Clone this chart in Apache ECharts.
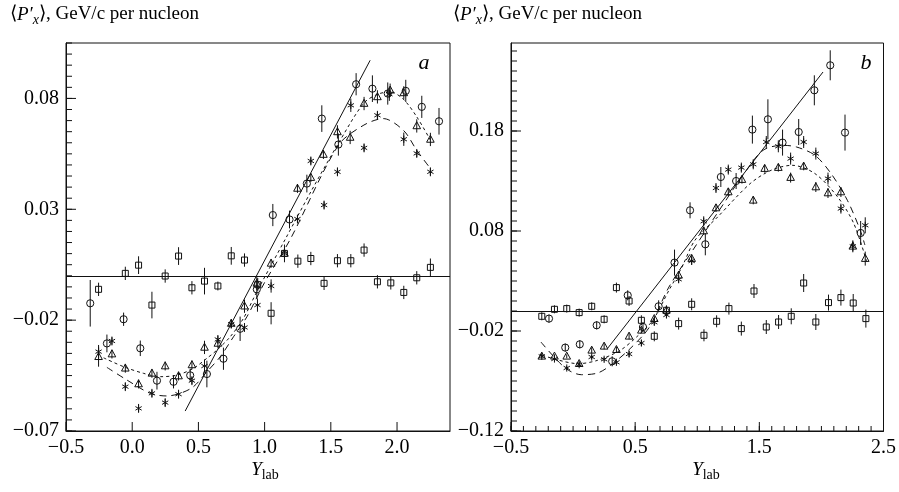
<!DOCTYPE html>
<html><head><meta charset="utf-8">
<script src="https://cdn.jsdelivr.net/npm/echarts@6/dist/echarts.min.js"></script>
<style>html,body{margin:0;padding:0;background:#fff}#c{width:899px;height:492px}</style>
</head><body><div id="c"></div>
<script>
// ---------- Panel a data: [Y_lab, <P'x>, error] ----------
const aCircles = [
[-0.317,-0.0124,0.0105],[-0.191,-0.0305,0.004],[-0.065,-0.0196,0.003],[0.061,-0.0327,0.0035],
[0.187,-0.0473,0.004],[0.312,-0.0478,0.003],[0.438,-0.0449,0.003],[0.564,-0.0443,0.006],
[0.689,-0.0374,0.005],[0.815,-0.0239,0.0055],[0.941,-0.0061,0.004],[1.062,0.0274,0.005],
[1.188,0.0254,0.004],[1.319,0.0416,0.004],[1.432,0.0709,0.006],[1.557,0.0592,0.005],
[1.691,0.0864,0.005],[1.814,0.0844,0.006],[1.930,0.0822,0.005],[2.066,0.0834,0.005],
[2.187,0.0762,0.005],[2.317,0.0697,0.006]];
const aTriangles = [
[-0.254,-0.0365,0.0045],[-0.153,-0.0353,0.002],[-0.052,-0.0417,0.002],[0.048,-0.0488,0.002],
[0.149,-0.044,0.002],[0.249,-0.0407,0.002],[0.350,-0.0452,0.002],[0.451,-0.0402,0.002],
[0.546,-0.0323,0.003],[0.647,-0.0305,0.002],[0.748,-0.0215,0.002],[0.848,-0.0137,0.003],
[0.941,-0.0034,0.003],[1.049,0.0056,0.002],[1.150,0.0101,0.002],[1.248,0.0394,0.002],
[1.349,0.0443,0.002],[1.444,0.0547,0.002],[1.550,0.0649,0.003],[1.646,0.0624,0.003],
[1.751,0.0777,0.003],[1.852,0.0807,0.003],[1.948,0.0837,0.003],[2.051,0.0825,0.003],
[2.149,0.0676,0.003],[2.252,0.0615,0.003]];
const aStars = [
[-0.254,-0.0342,0.003],[-0.153,-0.0294,0.002],[-0.052,-0.050,0.002],[0.048,-0.0598,0.002],
[0.149,-0.053,0.002],[0.249,-0.0572,0.002],[0.350,-0.0534,0.002],[0.451,-0.0473,0.002],
[0.546,-0.0407,0.003],[0.647,-0.0287,0.002],[0.748,-0.0218,0.002],[0.848,-0.0233,0.002],
[0.946,-0.0132,0.003],[1.049,-0.0046,0.003],[1.150,0.0101,0.002],[1.248,0.0256,0.002],
[1.349,0.0518,0.002],[1.449,0.0319,0.002],[1.550,0.0469,0.002],[1.651,0.0769,0.003],
[1.751,0.0577,0.002],[1.852,0.0724,0.002],[1.942,0.0819,0.003],[2.051,0.0616,0.003],
[2.149,0.0552,0.002],[2.252,0.0469,0.002]];
const aSquares = [
[-0.254,-0.0061,0.003],[-0.052,0.0011,0.003],[0.048,0.0048,0.004],[0.149,-0.0132,0.006],
[0.249,-0.0001,0.003],[0.350,0.0089,0.004],[0.451,-0.0054,0.003],[0.546,-0.0024,0.006],
[0.647,-0.0046,0.002],[0.748,0.009,0.004],[0.848,0.0071,0.003],[0.948,-0.004,0.003],
[1.049,-0.0169,0.005],[1.150,0.0101,0.004],[1.251,0.0066,0.003],[1.349,0.0078,0.003],
[1.449,-0.0034,0.003],[1.550,0.0068,0.003],[1.651,0.0068,0.003],[1.751,0.0116,0.003],
[1.852,-0.0027,0.003],[1.953,-0.0032,0.003],[2.051,-0.0075,0.003],[2.149,-0.0009,0.003],
[2.252,0.0038,0.004]];
const aSolid = [[0.40,-0.061],[1.797,0.0972]];
const aDotted = [[-0.216,-0.037],[-0.065,-0.041],[0.086,-0.044],[0.212,-0.0455],[0.338,-0.0448],
[0.463,-0.0417],[0.564,-0.0372],[0.640,-0.0335],[0.740,-0.0275],[0.840,-0.0192],[0.941,-0.0072],
[1.155,0.0164],[1.35,0.038],[1.55,0.059],[1.746,0.0777],[1.85,0.0818],[1.948,0.083],[2.05,0.0795],
[2.149,0.0717],[2.252,0.0612]];
const aDashed = [[-0.191,-0.0413],[-0.040,-0.047],[0.136,-0.053],[0.262,-0.0542],[0.363,-0.053],
[0.463,-0.05],[0.564,-0.0433],[0.665,-0.0365],[0.765,-0.0275],[0.866,-0.0185],[1.0,-0.003],
[1.193,0.0164],[1.557,0.0589],[1.75,0.068],[1.897,0.0709],[2.05,0.0655],[2.149,0.0566],[2.252,0.0484]];

// ---------- Panel b data ----------
const bCircles = [
[-0.194,-0.0076,0.004],[-0.063,-0.0366,0.004],[0.054,-0.0333,0.004],[0.190,-0.0143,0.004],
[0.315,-0.0503,0.005],[0.440,0.0157,0.005],[0.563,-0.016,0.005],[0.689,0.0047,0.006],
[0.817,0.0484,0.013],[0.942,0.1007,0.008],[1.065,0.0667,0.011],[1.190,0.134,0.01],
[1.313,0.13,0.008],[1.444,0.1814,0.014],[1.569,0.1917,0.02],[1.687,0.1684,0.013],
[1.817,0.179,0.013],[1.943,0.2207,0.015],[2.071,0.2457,0.015],[2.190,0.1784,0.018],
[2.316,0.078,0.012]];
const bTriangles = [
[-0.252,-0.0453,0.002],[-0.150,-0.0453,0.002],[-0.051,-0.0453,0.002],[0.049,-0.0527,0.002],
[0.150,-0.0393,0.003],[0.250,-0.0353,0.003],[0.349,-0.0387,0.003],[0.451,-0.0253,0.003],
[0.550,-0.0193,0.003],[0.654,-0.0077,0.003],[0.752,0.0007,0.003],[0.850,0.0357,0.004],
[0.955,0.0524,0.004],[1.052,0.08,0.004],[1.151,0.103,0.004],[1.250,0.119,0.004],
[1.360,0.1314,0.004],[1.451,0.1107,0.004],[1.543,0.1424,0.004],[1.653,0.1434,0.004],
[1.752,0.1334,0.005],[1.857,0.1447,0.004],[1.955,0.124,0.005],[2.053,0.118,0.005],
[2.157,0.119,0.005],[2.253,0.0647,0.005],[2.353,0.0524,0.007]];
const bStars = [
[-0.252,-0.0453,0.002],[-0.150,-0.048,0.002],[-0.051,-0.057,0.002],[0.049,-0.0537,0.002],
[0.150,-0.046,0.002],[0.250,-0.0483,0.002],[0.349,-0.0513,0.002],[0.451,-0.043,0.003],
[0.550,-0.032,0.003],[0.654,-0.0113,0.003],[0.752,-0.004,0.003],[0.850,0.0317,0.004],
[0.955,0.05,0.004],[1.052,0.0897,0.005],[1.151,0.123,0.005],[1.250,0.1414,0.005],
[1.355,0.1434,0.005],[1.451,0.1467,0.005],[1.556,0.169,0.006],[1.653,0.1647,0.006],
[1.752,0.1524,0.006],[1.857,0.169,0.006],[1.955,0.1574,0.006],[2.053,0.1324,0.006],
[2.157,0.1024,0.005],[2.253,0.0647,0.006],[2.353,0.0857,0.008]];
const bSquares = [
[-0.252,-0.0053,0.004],[-0.150,0.0017,0.004],[-0.051,0.0024,0.004],[0.049,-0.0016,0.004],
[0.150,0.0047,0.004],[0.250,-0.0083,0.004],[0.349,0.0234,0.005],[0.451,0.01,0.005],
[0.550,-0.0093,0.005],[0.654,-0.0253,0.005],[0.752,0.0007,0.005],[0.850,-0.0126,0.006],
[0.955,0.0067,0.006],[1.054,-0.0243,0.006],[1.156,-0.0103,0.006],[1.255,0.0024,0.006],
[1.355,-0.0176,0.007],[1.457,0.02,0.007],[1.556,-0.016,0.007],[1.655,-0.011,0.007],
[1.757,-0.0053,0.008],[1.857,0.028,0.009],[1.955,-0.011,0.008],[2.057,0.0084,0.008],
[2.157,0.0134,0.008],[2.256,0.008,0.009],[2.358,-0.0076,0.009]];
const bSolid = [[0.28,-0.037],[2.013,0.239]];
const bDotted = [[-0.247,-0.0443],[0.041,-0.0527],[0.198,-0.0493],[0.380,-0.0393],[0.511,-0.026],
[0.642,-0.0093],[0.772,0.0207],[0.877,0.044],[0.981,0.0707],[1.164,0.094],[1.426,0.1274],[1.60,0.141],
[1.765,0.1457],[1.948,0.1374],[2.131,0.114],[2.261,0.0874],[2.366,0.049]];
const bDashed = [[-0.259,-0.031],[-0.063,-0.057],[0.067,-0.0637],[0.198,-0.062],[0.302,-0.0543],
[0.459,-0.0377],[0.615,-0.016],[0.772,0.024],[0.981,0.064],[1.2,0.105],[1.38,0.138],[1.530,0.1607],
[1.687,0.1657],[1.800,0.164],[1.948,0.1557],[2.078,0.1374],[2.209,0.1107],[2.313,0.0807],[2.35,0.066]];

// ---------- axis settings ----------
const aX = {min:-0.5, max:2.4, interval:0.5};
const aY = {min:-0.07, max:0.105, interval:0.05, minor:0.005};
const bX = {min:-0.5, max:2.5, interval:1, minor:0.1};
const bY = {min:-0.12, max:0.268, interval:0.1, minor:0.01};

function range(min, max, step){
  const out=[]; const n=Math.floor((max-min)/step+1e-6);
  for (let k=0;k<=n;k++) out.push(+(min+k*step).toFixed(6));
  return out;
}
const aXTicks = range(aX.min, aX.max, aX.interval);
const aYTicks = range(aY.min, aY.max, aY.interval);
const aYMinor = range(aY.min, aY.max, aY.minor);
const bXTicks = range(bX.min, bX.max, bX.interval);
const bXMinor = range(bX.min, bX.max, bX.minor);
const bYTicks = range(bY.min, bY.max, bY.interval);
const bYMinor = range(bY.min, bY.max, bY.minor);

const FONT = '"Liberation Serif","Times New Roman",serif';
const INK = '#111';
function fmt(d){ return function(v){ const s=Number(v).toFixed(d); return s.replace('-', '\u2212'); }; }

function mainAxis(gi, r, pos, dec){
  return {type:'value', gridIndex:gi, position:pos, min:r.min, max:r.max, interval:r.interval,
    axisLine:{show:true, onZero:false, lineStyle:{color:INK, width:1}},
    axisTick:{show:false},
    splitLine:{show:false},
    axisLabel:{show:true, color:'#000', fontFamily:FONT, fontSize:20, margin:7, formatter:fmt(dec),
      showMaxLabel: (Math.abs((r.max-r.min)/r.interval - Math.round((r.max-r.min)/r.interval))<1e-6)}};
}
// inward tick marks drawn through the axes' own scales
function tickSeries(values, dir, xi, yi, r, len){
  return {type:'custom', xAxisIndex:xi, yAxisIndex:yi, clip:false, silent:true, z:3,
    data: values.map(function(v){ return dir==='x' ? [v, r.min] : [r.min, v]; }),
    renderItem:function(params, api){
      const p=api.coord([api.value(0), api.value(1)]);
      const sh = dir==='x' ? {x1:p[0], y1:p[1], x2:p[0], y2:p[1]-len} : {x1:p[0], y1:p[1], x2:p[0]+len, y2:p[1]};
      return {type:'line', shape:sh, style:{stroke:INK, lineWidth:1}};
    }};
}

function drawShape(kind, cx, cy){
  const st = {fill:'none', stroke:INK, lineWidth:1};
  if (kind==='circle') return [{type:'circle', shape:{cx:cx, cy:cy, r:3.6}, style:st}];
  if (kind==='square') return [{type:'rect', shape:{x:cx-3, y:cy-3, width:6, height:6}, style:st}];
  if (kind==='triangle') return [{type:'polygon', shape:{points:[[cx,cy-4.2],[cx+3.8,cy+2.8],[cx-3.8,cy+2.8]]}, style:st}];
  const r=3.6, d=r*0.87, h=r*0.5;
  return [
    {type:'line', shape:{x1:cx, y1:cy-r, x2:cx, y2:cy+r}, style:{stroke:INK, lineWidth:1}},
    {type:'line', shape:{x1:cx-d, y1:cy-h, x2:cx+d, y2:cy+h}, style:{stroke:INK, lineWidth:1}},
    {type:'line', shape:{x1:cx-d, y1:cy+h, x2:cx+d, y2:cy-h}, style:{stroke:INK, lineWidth:1}}
  ];
}
function pointSeries(data, kind, xi, yi){
  return {type:'custom', xAxisIndex:xi, yAxisIndex:yi, clip:true, z:5, silent:true,
    data:data,
    renderItem:function(params, api){
      const x=api.value(0), y=api.value(1), e=api.value(2);
      const p=api.coord([x,y]), lo=api.coord([x,y-e]), hi=api.coord([x,y+e]);
      const ch=[{type:'line', shape:{x1:p[0], y1:lo[1], x2:p[0], y2:hi[1]}, style:{stroke:INK, lineWidth:1}}];
      return {type:'group', children: ch.concat(drawShape(kind, p[0], p[1]))};
    }};
}
function curve(data, xi, yi, type, smooth){
  return {type:'line', xAxisIndex:xi, yAxisIndex:yi, data:data, showSymbol:false, symbol:'none',
    smooth:smooth, silent:true, z:4, lineStyle:{color:INK, width:1, type:type}};
}
function zeroLine(xi, yi){
  return {type:'line', xAxisIndex:xi, yAxisIndex:yi, data:[], silent:true,
    markLine:{silent:true, symbol:['none','none'], label:{show:false},
      lineStyle:{color:INK, type:'solid', width:1}, data:[{yAxis:0}]}};
}

const titleRich = {
  i:{fontFamily:FONT, fontSize:19, fontStyle:'italic', color:'#000'},
  s:{fontFamily:FONT, fontSize:14, fontStyle:'italic', color:'#000', padding:[11,0,0,0]},
  n:{fontFamily:FONT, fontSize:19, color:'#000'}
};
const labRich = {
  i:{fontFamily:FONT, fontSize:19, fontStyle:'italic', color:'#000'},
  s:{fontFamily:FONT, fontSize:14, color:'#000', padding:[11,0,0,0]}
};
function titleText(x){
  return {type:'text', x:x, y:2, silent:true,
    style:{text:'{n|\u27E8}{i|P\u2032}{s|x}{n|\u27E9, GeV/c per nucleon}', rich:titleRich,
      textAlign:'left', textVerticalAlign:'top'}};
}
function labText(x){
  return {type:'text', x:x, y:457, silent:true,
    style:{text:'{i|Y}{s|lab}', rich:labRich, textAlign:'center', textVerticalAlign:'top'}};
}
function letter(t, x){
  return {type:'text', x:x, y:52, silent:true,
    style:{text:t, fontFamily:FONT, fontSize:22, fontStyle:'italic', fill:'#000', textAlign:'center', textVerticalAlign:'top'}};
}

const option = {
  animation:false,
  backgroundColor:'#fff',
  grid:[
    {left:66, right:449, top:43, bottom:61, show:true, borderColor:INK, borderWidth:1},
    {left:511, right:7, top:43, bottom:61, show:true, borderColor:INK, borderWidth:1}
  ],
  xAxis:[ mainAxis(0, aX, 'bottom', 1), mainAxis(1, bX, 'bottom', 1) ],
  yAxis:[ mainAxis(0, aY, 'left', 2), mainAxis(1, bY, 'left', 2) ],
  series:[
    tickSeries(aXTicks, 'x', 0, 0, aY, 9),
    tickSeries(aYTicks, 'y', 0, 0, aX, 10),
    tickSeries(aYMinor, 'y', 0, 0, aX, 6),
    tickSeries(bXTicks, 'x', 1, 1, bY, 9),
    tickSeries(bXMinor, 'x', 1, 1, bY, 5),
    tickSeries(bYTicks, 'y', 1, 1, bX, 10),
    tickSeries(bYMinor, 'y', 1, 1, bX, 6),
    zeroLine(0,0),
    curve(aSolid, 0, 0, 'solid', false),
    curve(aDotted, 0, 0, [3,3], 0.3),
    curve(aDashed, 0, 0, [7,5], 0.3),
    pointSeries(aSquares, 'square', 0, 0),
    pointSeries(aCircles, 'circle', 0, 0),
    pointSeries(aTriangles, 'triangle', 0, 0),
    pointSeries(aStars, 'star', 0, 0),
    zeroLine(1,1),
    curve(bSolid, 1, 1, 'solid', false),
    curve(bDotted, 1, 1, [3,3], 0.3),
    curve(bDashed, 1, 1, [7,5], 0.3),
    pointSeries(bSquares, 'square', 1, 1),
    pointSeries(bCircles, 'circle', 1, 1),
    pointSeries(bTriangles, 'triangle', 1, 1),
    pointSeries(bStars, 'star', 1, 1)
  ],
  graphic:[
    titleText(10), titleText(453),
    labText(265), labText(706),
    letter('a', 424), letter('b', 866)
  ]
};
const chart = echarts.init(document.getElementById('c'), null, {renderer:'canvas'});
chart.setOption(option);
</script></body></html>
